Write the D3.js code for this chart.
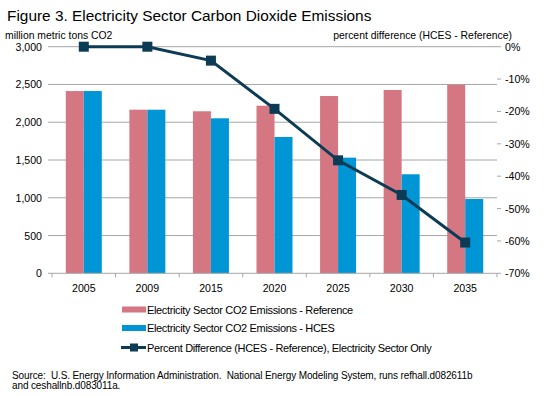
<!DOCTYPE html>
<html><head><meta charset="utf-8">
<script src="https://cdn.jsdelivr.net/npm/d3@7"></script>
<style>
body{margin:0;background:#fff;}
svg{font-family:"Liberation Sans",Arial,sans-serif;}
text{white-space:pre;}
</style></head>
<body><svg id="c" width="550" height="397"></svg>
<script>
const years = ["2005","2009","2015","2020","2025","2030","2035"];
const reference = [2413, 2166, 2145, 2219, 2347, 2427, 2497];
const hces = [2413, 2166, 2052, 1805, 1531, 1311, 984];
const pctDiff = [0, 0, -4.3, -19.2, -35.1, -45.8, -60.5];
const leftTicks = [0, 500, 1000, 1500, 2000, 2500, 3000];
const rightTicks = [0, -10, -20, -30, -40, -50, -60, -70];
const legendLabels = ["Electricity Sector CO2 Emissions - Reference","Electricity Sector CO2 Emissions - HCES","Percent Difference (HCES - Reference), Electricity Sector Only"];

const svg = d3.select("#c");
const m = {l:52, r:497, t:46.7, b:273.3};
const x = d3.scaleBand().domain(years).range([m.l, m.r]).paddingInner(0).paddingOuter(0);
const yL = d3.scaleLinear().domain([0,3000]).range([m.b, m.t]);
const yR = d3.scaleLinear().domain([-70,0]).range([m.b, m.t]);
const fmt = d3.format(",");
const gridC = "#a6a6a6";
const fs = 10.6;

// title
svg.append("text").attr("x",7).attr("y",21).attr("font-size",15.4).attr("fill","#000")
  .text("Figure 3. Electricity Sector Carbon Dioxide Emissions");
svg.append("text").attr("x",5).attr("y",39).attr("font-size",10.4).attr("fill","#000").text("million metric tons CO2");
svg.append("text").attr("x",512).attr("y",39).attr("font-size",10.4).attr("fill","#000").attr("text-anchor","end").text("percent difference (HCES - Reference)");

// gridlines
svg.append("g").selectAll("line").data(leftTicks.filter(d=>d>0)).join("line")
  .attr("x1",m.l).attr("x2",m.r).attr("y1",d=>yL(d)).attr("y2",d=>yL(d))
  .attr("stroke",gridC).attr("stroke-width",1);

// left axis labels
svg.append("g").selectAll("text").data(leftTicks).join("text")
  .attr("x",42).attr("y",d=>yL(d)+4).attr("text-anchor","end").attr("font-size",fs).text(d=>fmt(d));
svg.append("g").selectAll("line").data(leftTicks).join("line")
  .attr("x1",m.l-4).attr("x2",m.l).attr("y1",d=>yL(d)).attr("y2",d=>yL(d)).attr("stroke",gridC);
// right labels
svg.append("g").selectAll("text").data(rightTicks).join("text")
  .attr("x",505).attr("y",d=>yR(d)+4).attr("font-size",fs).text(d=>d+"%");
svg.append("g").selectAll("line").data(rightTicks).join("line")
  .attr("x1",m.r).attr("x2",m.r+4).attr("y1",d=>yR(d)).attr("y2",d=>yR(d)).attr("stroke",gridC);

// bars
const bw = 18;
const g = svg.append("g");
years.forEach((yr,i)=>{
  const cx = x(yr) + x.bandwidth()/2;
  g.append("rect").attr("x",cx-bw).attr("width",bw).attr("y",yL(reference[i])).attr("height",yL(0)-yL(reference[i])).attr("fill","#d57783");
  g.append("rect").attr("x",cx).attr("width",bw).attr("y",yL(hces[i])).attr("height",yL(0)-yL(hces[i])).attr("fill","#0096d6");
});

// x axis
svg.append("line").attr("x1",m.l).attr("x2",m.r).attr("y1",m.b).attr("y2",m.b).attr("stroke",gridC);
const bounds = years.map(d=>x(d)).concat([m.r]);
svg.append("g").selectAll("line").data(bounds).join("line")
  .attr("x1",d=>d).attr("x2",d=>d).attr("y1",m.b).attr("y2",m.b+4).attr("stroke",gridC);
svg.append("g").selectAll("text").data(years).join("text")
  .attr("x",d=>x(d)+x.bandwidth()/2).attr("y",292).attr("text-anchor","middle").attr("font-size",fs).text(d=>d);

// line
const lineC = "#0c3b56";
const line = d3.line().x((d,i)=>x(years[i])+x.bandwidth()/2).y(d=>yR(d));
svg.append("path").datum(pctDiff).attr("d",line).attr("fill","none").attr("stroke",lineC).attr("stroke-width",3);
svg.append("g").selectAll("rect").data(pctDiff).join("rect")
  .attr("x",(d,i)=>x(years[i])+x.bandwidth()/2-5).attr("y",d=>yR(d)-5).attr("width",10).attr("height",10).attr("fill",lineC);

// legend
const lg = svg.append("g");
const ly = [309.5, 328, 347.5];
lg.append("rect").attr("x",122).attr("y",ly[0]-3).attr("width",24).attr("height",6).attr("fill","#d57783");
lg.append("rect").attr("x",122).attr("y",ly[1]-3).attr("width",24).attr("height",6).attr("fill","#0096d6");
lg.append("line").attr("x1",121).attr("x2",146).attr("y1",ly[2]).attr("y2",ly[2]).attr("stroke",lineC).attr("stroke-width",3);
lg.append("rect").attr("x",130).attr("y",ly[2]-4).attr("width",8).attr("height",8).attr("fill",lineC);
legendLabels.forEach((t,i)=>{
  lg.append("text").attr("x",147).attr("y",ly[i]+4).attr("font-size",11).attr("letter-spacing",-0.35).text(t);
});

// source
svg.append("text").attr("x",12).attr("y",379).attr("font-size",10).attr("letter-spacing",-0.12)
  .text("Source:  U.S. Energy Information Administration.  National Energy Modeling System, runs refhall.d082611b");
svg.append("text").attr("x",12).attr("y",389).attr("font-size",10).attr("letter-spacing",-0.12)
  .text("and ceshallnb.d083011a.");
</script></body></html>
